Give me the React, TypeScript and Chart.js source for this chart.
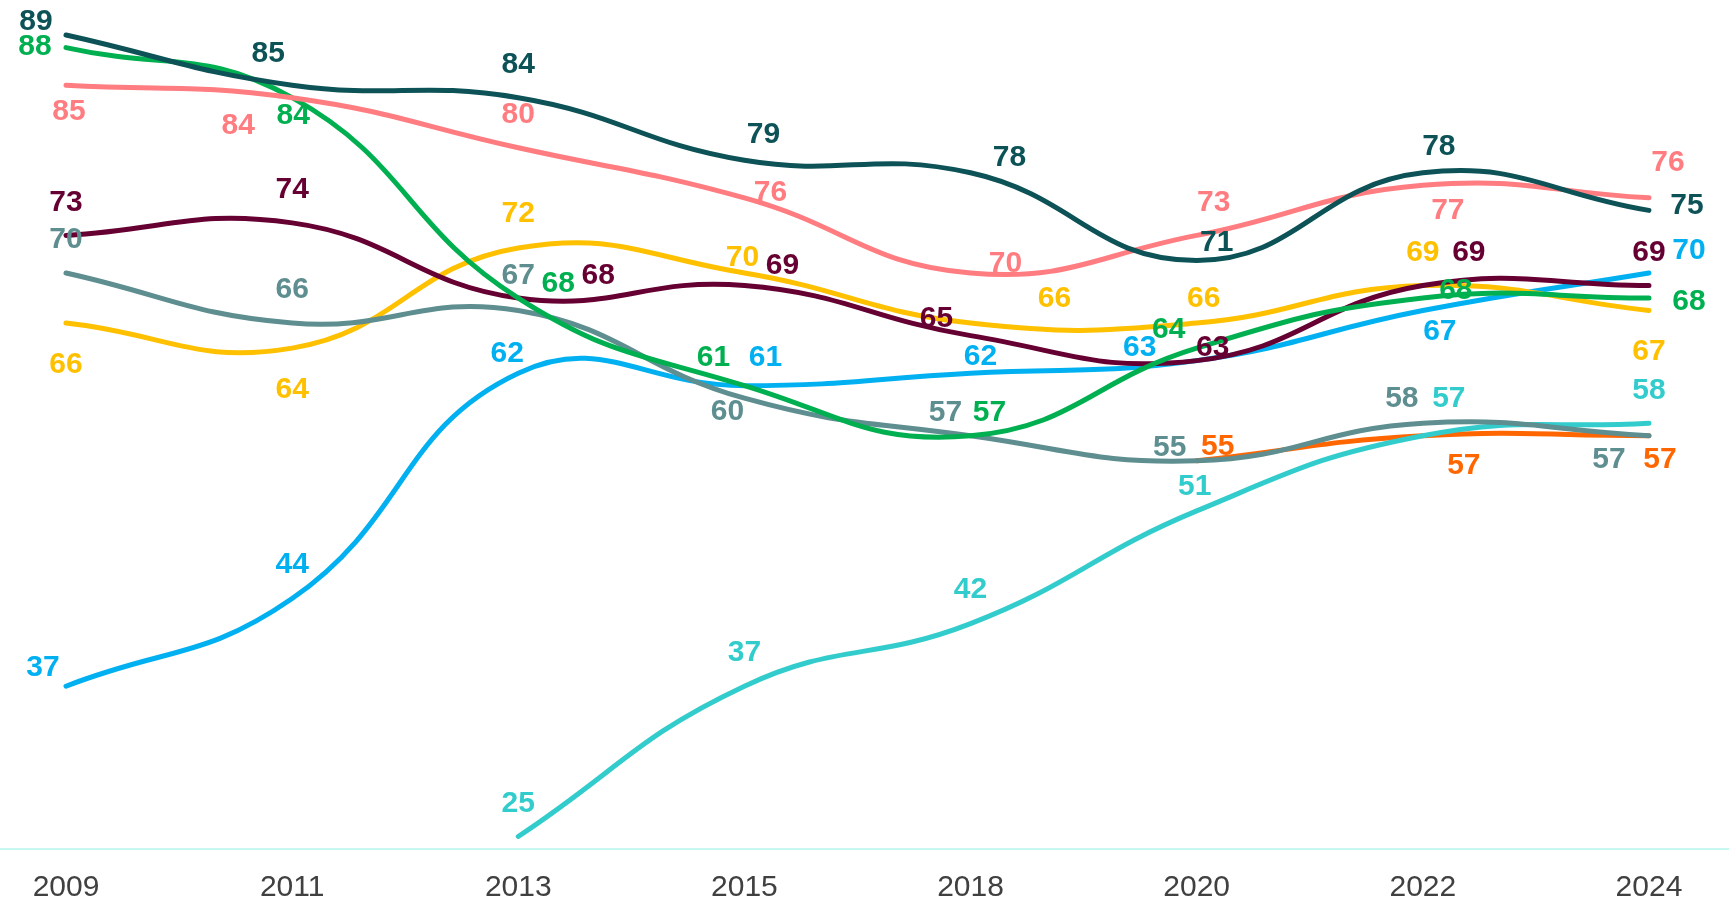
import React, { useEffect, useRef } from "react";
import { Chart, registerables } from "chart.js";

Chart.register(...registerables);

const years = ["2009", "2011", "2013", "2015", "2018", "2020", "2022", "2024"];

const darkTeal = [89, 85, 84, 79, 78, 71, 78, 75];
const pink = [85, 84, 80, 76, 70, 73, 77, 76];
const green = [88, 84, 68, 61, 57, 64, 68, 68];
const maroon = [73, 74, 68, 69, 65, 63, 69, 69];
const greyTeal = [70, 66, 67, 60, 57, 55, 58, 57];
const yellow = [66, 64, 72, 70, 66, 66, 69, 67];
const lightBlue = [37, 44, 62, 61, 62, 63, 67, 70];
const turquoise = [null, null, 25, 37, 42, 51, 57, 58];
const orange = [null, null, null, null, null, 55, 57, 57];

type Off = [number, number] | null;

// label offsets (pixels) relative to each point
const offDarkTeal: Off[] = [[-30, -15], [-24, -33], [0, -35], [19, -28], [39, -17], [20, -20], [16, -28], [38, -7]];
const offPink: Off[] = [[3, 25], [-54, 26], [0, -35], [26, -7], [35, -11], [17, -35], [25, 23], [19, -37]];
const offGreen: Off[] = [[-31, -3], [1, 16], [40, -16], [-31, -30], [19, -25], [-28, -20], [33, -9], [40, 2]];
const offMaroon: Off[] = [[0, -35], [0, -35], [80, -24], [38, -22], [-34, -19], [16, -15], [46, -35], [0, -35]];
const offGreyTeal: Off[] = [[0, -35], [0, -35], [0, -37], [-17, 12], [-25, -25], [-27, -15], [-21, -27], [-40, 22]];
const offYellow: Off[] = [[0, 40], [0, 40], [0, -36], [-2, -17], [84, -26], [7, -26], [0, -35], [0, 39]];
const offLightBlue: Off[] = [[-23, -20], [0, -36], [-11, -21], [21, -30], [10, -18], [-57, -15], [17, 19], [40, -24]];
const offTurquoise: Off[] = [null, null, [0, -35], [0, -35], [0, -36], [-2, -26], [26, -39], [0, -35]];
const offOrange: Off[] = [null, null, null, null, null, [21, -16], [41, 28], [11, 22]];

const series = [
  { name: "darkTeal", values: darkTeal, color: "#0C5256", offs: offDarkTeal },
  { name: "pink", values: pink, color: "#FF7C80", offs: offPink },
  { name: "green", values: green, color: "#00B050", offs: offGreen },
  { name: "maroon", values: maroon, color: "#660033", offs: offMaroon },
  { name: "greyTeal", values: greyTeal, color: "#5E8E8F", offs: offGreyTeal },
  { name: "yellow", values: yellow, color: "#FFC000", offs: offYellow },
  { name: "lightBlue", values: lightBlue, color: "#00B0F0", offs: offLightBlue },
  { name: "turquoise", values: turquoise, color: "#33CCCC", offs: offTurquoise },
  { name: "orange", values: orange, color: "#FF6600", offs: offOrange },
];

const FONT = "'Liberation Sans', Arial, sans-serif";

const labelPlugin = {
  id: "pointLabels",
  afterDatasetsDraw(chart: any) {
    const ctx = chart.ctx;
    ctx.save();
    ctx.font = `bold 30px ${FONT}`;
    ctx.textAlign = "center";
    ctx.textBaseline = "middle";
    chart.data.datasets.forEach((ds: any, di: number) => {
      const meta = chart.getDatasetMeta(di);
      meta.data.forEach((el: any, pi: number) => {
        const raw = ds.data[pi];
        const off = ds.labelOffsets[raw.x] || [0, -30];
        ctx.fillStyle = ds.borderColor;
        ctx.fillText(String(raw.y), el.x + off[0], el.y + off[1] + 2);
      });
    });
    ctx.restore();
  },
};

export default function App() {
  const ref = useRef<HTMLCanvasElement>(null);
  useEffect(() => {
    if (!ref.current) return;
    const datasets = series.map((s) => ({
      label: s.name,
      data: s.values
        .map((v, i) => ({ x: i, y: v }))
        .filter((p) => p.y !== null),
      borderColor: s.color,
      backgroundColor: s.color,
      borderWidth: 5,
      borderCapStyle: "round",
      borderJoinStyle: "round",
      pointRadius: 0,
      pointHoverRadius: 0,
      tension: 0.45,
      fill: false,
      labelOffsets: s.offs,
    }));
    const chart = new Chart(ref.current, {
      type: "line",
      data: { datasets: datasets as any },
      options: {
        animation: false,
        responsive: false,
        maintainAspectRatio: false,
        layout: { padding: 0 },
        plugins: {
          legend: { display: false },
          tooltip: { enabled: false },
          title: { display: false },
        },
        scales: {
          x: {
            type: "linear",
            min: -0.29186,
            max: 7.354,
            afterBuildTicks: (scale: any) => {
              scale.ticks = years.map((_, i) => ({ value: i }));
            },
            afterFit: (scale: any) => {
              scale.height = 59;
            },
            grid: { display: false, drawTicks: false },
            border: { display: true, color: "#C8F6F1", width: 2 },
            ticks: {
              padding: 21,
              color: "#404040",
              font: { family: FONT, size: 30 },
              maxRotation: 0,
              autoSkip: false,
              callback: (value: any) => years[value as number] ?? "",
            },
          },
          y: {
            display: false,
            min: 24,
            max: 91.8,
          },
        },
      },
      plugins: [labelPlugin],
    });
    return () => chart.destroy();
  }, []);
  return (
    <div style={{ position: "fixed", left: 0, top: 0, width: 1729, height: 908, background: "#fff" }}>
      <canvas ref={ref} width={1729} height={908} style={{ display: "block" }} />
    </div>
  );
}
